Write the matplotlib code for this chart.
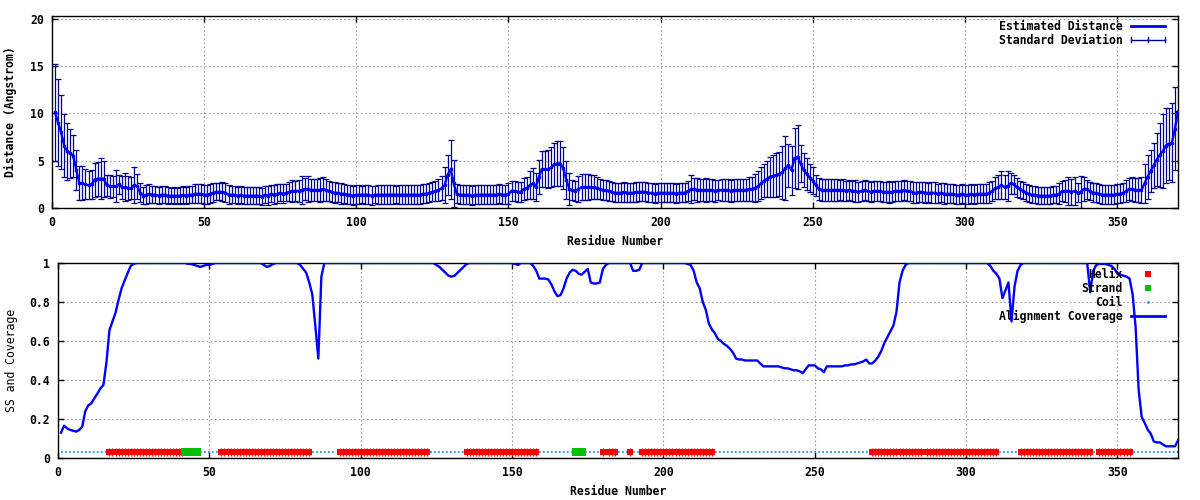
import numpy as np
import matplotlib
matplotlib.use("Agg")
import matplotlib.pyplot as plt
from matplotlib.lines import Line2D
from matplotlib.legend_handler import HandlerBase
from matplotlib.ticker import FuncFormatter

plt.rcParams['font.family'] = ['DejaVu Sans Mono']
plt.rcParams['font.size'] = 8.3
plt.rcParams['font.weight'] = 'bold'

# ---------------- data ----------------
residues = list(range(1, 371))

mean_distance = [
    10.1, 9.0, 8.0, 6.6, 6.0, 5.8, 5.5, 4.0, 2.6, 2.6,
    2.5, 2.4, 2.5, 3.0, 3.1, 3.1, 3.1, 2.4, 2.3, 2.3,
    2.3, 2.5, 2.2, 2.2, 2.1, 2.1, 2.4, 2.3, 1.6, 1.3,
    1.4, 1.5, 1.4, 1.4, 1.3, 1.4, 1.4, 1.3, 1.3, 1.3,
    1.3, 1.3, 1.4, 1.3, 1.4, 1.4, 1.5, 1.5, 1.5, 1.4,
    1.4, 1.5, 1.6, 1.7, 1.7, 1.7, 1.6, 1.4, 1.4, 1.4,
    1.3, 1.4, 1.3, 1.3, 1.3, 1.3, 1.3, 1.3, 1.2, 1.4,
    1.3, 1.5, 1.4, 1.5, 1.6, 1.5, 1.6, 1.7, 1.8, 1.8,
    1.8, 1.9, 2.0, 2.0, 1.9, 1.9, 1.9, 1.9, 2.0, 1.9,
    1.8, 1.7, 1.6, 1.6, 1.5, 1.5, 1.4, 1.4, 1.3, 1.4,
    1.4, 1.4, 1.4, 1.4, 1.3, 1.4, 1.4, 1.4, 1.4, 1.4,
    1.4, 1.4, 1.4, 1.4, 1.4, 1.4, 1.4, 1.4, 1.4, 1.4,
    1.4, 1.5, 1.5, 1.6, 1.7, 1.8, 1.9, 2.1, 2.4, 3.5,
    4.1, 2.6, 1.5, 1.4, 1.4, 1.4, 1.4, 1.3, 1.4, 1.4,
    1.4, 1.4, 1.4, 1.4, 1.4, 1.4, 1.5, 1.4, 1.4, 1.5,
    1.8, 1.8, 1.7, 1.7, 2.0, 2.1, 2.4, 2.6, 2.2, 3.3,
    4.1, 4.1, 4.1, 4.3, 4.6, 4.7, 4.7, 4.2, 3.0, 2.0,
    1.9, 1.8, 2.0, 2.2, 2.2, 2.2, 2.2, 2.2, 2.1, 2.0,
    1.9, 1.9, 1.8, 1.7, 1.6, 1.6, 1.6, 1.7, 1.6, 1.6,
    1.6, 1.7, 1.7, 1.7, 1.7, 1.6, 1.6, 1.5, 1.6, 1.6,
    1.6, 1.6, 1.6, 1.6, 1.5, 1.6, 1.6, 1.6, 1.8, 2.0,
    2.0, 1.9, 1.9, 1.9, 1.9, 1.9, 1.9, 1.8, 1.9, 1.9,
    1.9, 1.9, 1.8, 1.9, 1.9, 1.9, 1.9, 1.9, 2.0, 2.0,
    2.1, 2.3, 2.6, 2.9, 3.1, 3.3, 3.4, 3.5, 3.6, 3.8,
    4.2, 4.5, 4.0, 5.3, 5.4, 4.7, 4.0, 3.6, 3.2, 2.9,
    2.4, 2.0, 1.9, 1.9, 1.9, 1.9, 1.9, 1.9, 1.9, 1.9,
    1.8, 1.9, 1.8, 1.8, 1.7, 1.8, 1.9, 1.8, 1.7, 1.8,
    1.8, 1.8, 1.7, 1.7, 1.7, 1.7, 1.8, 1.8, 1.8, 1.9,
    1.8, 1.8, 1.6, 1.6, 1.7, 1.7, 1.6, 1.6, 1.6, 1.6,
    1.5, 1.6, 1.5, 1.5, 1.5, 1.5, 1.4, 1.4, 1.5, 1.4,
    1.4, 1.5, 1.4, 1.5, 1.5, 1.5, 1.5, 1.6, 1.8, 2.1,
    2.2, 2.4, 2.2, 2.3, 2.6, 2.5, 2.2, 2.0, 1.8, 1.6,
    1.5, 1.4, 1.4, 1.3, 1.3, 1.3, 1.3, 1.3, 1.4, 1.4,
    1.5, 1.8, 1.8, 1.8, 1.7, 1.8, 1.6, 1.7, 2.0, 2.0,
    1.8, 1.6, 1.6, 1.5, 1.4, 1.4, 1.4, 1.4, 1.4, 1.5,
    1.5, 1.6, 1.8, 2.0, 2.0, 1.9, 1.9, 1.9, 2.6, 3.3,
    3.9, 4.5, 5.1, 5.6, 6.0, 6.6, 6.8, 6.9, 8.4, 10.2,
]

std_deviation = [
    5.1, 4.6, 3.9, 3.3, 3.0, 2.6, 2.2, 2.1, 1.8, 1.8,
    1.6, 1.5, 1.5, 1.8, 1.8, 2.2, 1.9, 1.1, 1.2, 1.1,
    1.7, 1.0, 1.2, 1.5, 1.3, 1.2, 1.9, 1.3, 1.0, 0.9,
    1.0, 1.0, 0.9, 0.9, 0.9, 0.9, 0.9, 0.9, 0.8, 0.9,
    0.8, 0.9, 0.9, 0.9, 0.9, 0.9, 1.0, 1.0, 1.0, 1.0,
    1.0, 1.0, 1.0, 0.9, 0.9, 1.0, 1.0, 1.0, 0.9, 0.9,
    0.9, 0.9, 0.9, 0.9, 0.9, 0.9, 0.9, 0.9, 0.9, 0.9,
    1.0, 0.9, 1.0, 1.0, 0.9, 1.0, 0.9, 1.0, 1.2, 1.1,
    1.2, 1.5, 1.2, 1.4, 1.2, 1.2, 1.2, 1.3, 1.3, 1.2,
    1.1, 1.1, 1.1, 1.0, 1.1, 1.0, 1.0, 1.0, 1.0, 1.0,
    1.0, 0.9, 1.0, 1.0, 1.0, 0.9, 1.0, 1.0, 1.0, 1.0,
    1.0, 1.0, 0.9, 1.0, 1.0, 1.0, 1.0, 1.0, 1.0, 1.0,
    1.0, 1.0, 1.0, 1.0, 1.0, 1.1, 1.2, 1.3, 1.9, 2.1,
    3.1, 2.5, 1.0, 1.0, 1.0, 1.0, 1.0, 1.0, 1.0, 1.0,
    1.0, 1.0, 1.0, 1.0, 1.0, 1.0, 1.0, 1.0, 1.0, 1.1,
    1.1, 1.1, 1.1, 1.1, 1.2, 1.2, 1.5, 1.6, 1.5, 1.8,
    1.9, 1.9, 2.0, 2.1, 2.3, 2.4, 2.4, 2.2, 2.0, 1.7,
    1.1, 1.1, 1.4, 1.4, 1.4, 1.4, 1.3, 1.3, 1.2, 1.1,
    1.1, 1.1, 1.1, 1.0, 1.0, 1.0, 1.0, 1.1, 1.0, 1.0,
    1.0, 1.1, 1.0, 1.0, 1.0, 1.0, 1.0, 1.0, 1.0, 1.0,
    1.0, 1.0, 1.0, 1.0, 1.0, 1.0, 1.0, 1.0, 1.1, 1.5,
    1.2, 1.3, 1.2, 1.2, 1.3, 1.2, 1.2, 1.2, 1.1, 1.2,
    1.2, 1.2, 1.2, 1.2, 1.2, 1.2, 1.2, 1.2, 1.3, 1.3,
    1.5, 1.6, 1.7, 1.7, 1.9, 2.1, 2.2, 2.3, 2.3, 2.8,
    3.4, 2.3, 2.6, 3.2, 3.4, 2.0, 1.8, 1.7, 1.5, 1.4,
    1.1, 1.2, 1.2, 1.2, 1.2, 1.2, 1.2, 1.2, 1.1, 1.2,
    1.1, 1.1, 1.1, 1.2, 1.1, 1.1, 1.1, 1.1, 1.1, 1.1,
    1.1, 1.1, 1.1, 1.1, 1.2, 1.1, 1.1, 1.1, 1.1, 1.1,
    1.1, 1.1, 1.1, 1.1, 1.1, 1.1, 1.1, 1.0, 1.1, 1.1,
    1.0, 1.0, 1.1, 1.0, 1.0, 1.0, 1.0, 1.0, 1.0, 1.0,
    1.0, 1.0, 1.0, 1.0, 1.0, 1.0, 1.0, 1.1, 1.1, 1.2,
    1.3, 1.5, 1.3, 1.6, 1.1, 1.0, 1.0, 0.9, 0.9, 0.9,
    0.9, 0.9, 0.9, 0.9, 0.9, 0.9, 0.9, 0.9, 0.9, 0.9,
    1.1, 1.1, 1.2, 1.5, 1.4, 1.5, 1.0, 1.7, 1.3, 1.0,
    1.0, 1.0, 1.0, 1.0, 1.0, 1.0, 1.0, 1.0, 1.0, 1.0,
    1.0, 1.0, 1.2, 1.2, 1.3, 1.3, 1.3, 1.4, 2.1, 2.3,
    2.2, 2.4, 2.8, 3.4, 3.9, 4.0, 3.8, 4.2, 4.4, 0.1,
]

coverage = [
    0.13, 0.166, 0.152, 0.144, 0.14, 0.135, 0.144, 0.16, 0.24, 0.27,
    0.28, 0.306, 0.33, 0.357, 0.374, 0.49, 0.656, 0.70, 0.745, 0.81,
    0.87, 0.91, 0.947, 0.985, 0.995, 1.0, 1.0, 1.0, 1.0, 1.0,
    1.0, 1.0, 1.0, 1.0, 1.0, 1.0, 1.0, 1.0, 1.0, 1.0,
    1.0, 1.0, 0.995, 0.995, 0.99, 0.985, 0.98, 0.985, 0.99, 0.99,
    0.995, 1.0, 1.0, 1.0, 1.0, 1.0, 1.0, 1.0, 1.0, 1.0,
    1.0, 1.0, 1.0, 1.0, 1.0, 1.0, 1.0, 0.99, 0.98, 0.985,
    0.995, 1.0, 1.0, 1.0, 1.0, 1.0, 1.0, 1.0, 1.0, 0.99,
    0.97, 0.95, 0.9, 0.84, 0.68, 0.51, 0.93, 1.0, 1.0, 1.0,
    1.0, 1.0, 1.0, 1.0, 1.0, 1.0, 1.0, 1.0, 1.0, 1.0,
    1.0, 1.0, 1.0, 1.0, 1.0, 1.0, 1.0, 1.0, 1.0, 1.0,
    1.0, 1.0, 1.0, 1.0, 1.0, 1.0, 1.0, 1.0, 1.0, 1.0,
    1.0, 1.0, 1.0, 1.0, 0.99, 0.98, 0.965, 0.95, 0.935, 0.93,
    0.935, 0.95, 0.965, 0.98, 0.995, 1.0, 1.0, 1.0, 1.0, 1.0,
    1.0, 1.0, 1.0, 1.0, 1.0, 1.0, 1.0, 1.0, 1.0, 1.0,
    0.995, 0.99, 1.0, 1.0, 1.0, 1.0, 0.985, 0.96, 0.92, 0.92,
    0.92, 0.915, 0.89, 0.855, 0.83, 0.835, 0.87, 0.92, 0.95, 0.965,
    0.96, 0.945, 0.94, 0.955, 0.97, 0.9, 0.895, 0.895, 0.9, 0.97,
    0.99, 1.0, 1.0, 1.0, 1.0, 1.0, 1.0, 1.0, 1.0, 0.96,
    0.96, 0.965, 1.0, 1.0, 1.0, 1.0, 1.0, 1.0, 1.0, 1.0,
    1.0, 1.0, 1.0, 1.0, 1.0, 1.0, 1.0, 0.995, 0.99, 0.96,
    0.9, 0.87, 0.8, 0.76, 0.69, 0.66, 0.64, 0.61, 0.6, 0.585,
    0.575, 0.56, 0.54, 0.51, 0.505, 0.505, 0.5, 0.5, 0.5, 0.5,
    0.5, 0.485, 0.47, 0.47, 0.47, 0.47, 0.47, 0.47, 0.465, 0.46,
    0.46, 0.455, 0.45, 0.45, 0.445, 0.435, 0.455, 0.475, 0.475, 0.475,
    0.46, 0.455, 0.44, 0.47, 0.47, 0.47, 0.47, 0.47, 0.47, 0.475,
    0.475, 0.48, 0.48, 0.485, 0.49, 0.495, 0.505, 0.485, 0.485, 0.5,
    0.52, 0.55, 0.59, 0.62, 0.65, 0.68, 0.75, 0.9, 0.96, 0.99,
    1.0, 1.0, 1.0, 1.0, 1.0, 1.0, 1.0, 1.0, 1.0, 1.0,
    1.0, 1.0, 1.0, 1.0, 1.0, 1.0, 1.0, 1.0, 1.0, 1.0,
    1.0, 1.0, 1.0, 1.0, 1.0, 1.0, 1.0, 0.985, 0.96, 0.945,
    0.92, 0.82, 0.86, 0.9, 0.7, 0.88, 0.96, 0.99, 1.0, 1.0,
    1.0, 1.0, 1.0, 1.0, 1.0, 1.0, 1.0, 1.0, 1.0, 1.0,
    1.0, 1.0, 1.0, 1.0, 1.0, 1.0, 1.0, 1.0, 1.0, 1.0,
    0.85, 0.96, 0.99, 0.995, 0.995, 0.995, 0.99, 0.985, 0.97, 0.945,
    0.94, 0.935, 0.93, 0.92, 0.84, 0.67, 0.35, 0.21, 0.18, 0.145,
    0.125, 0.085, 0.08, 0.08, 0.07, 0.06, 0.06, 0.06, 0.06, 0.09,
]

helix_ranges = [(17, 41), (54, 83), (93, 122), (135, 158), (180, 180),
                (182, 184), (189, 189), (193, 216), (269, 285), (287, 310),
                (318, 341), (344, 354)]
strand_ranges = [(42, 46), (171, 173)]
ss_level = 0.03

x_ticks = [0, 50, 100, 150, 200, 250, 300, 350]
y_ticks_top = [0, 5, 10, 15, 20]
y_ticks_bottom = [0, 0.2, 0.4, 0.6, 0.8, 1.0]

# ---------------- derived SS arrays ----------------
res = np.array(residues)
helix_y = np.full(len(res), np.nan)
strand_y = np.full(len(res), np.nan)
for a, b in helix_ranges:
    helix_y[(res >= a) & (res <= b)] = ss_level
for a, b in strand_ranges:
    strand_y[(res >= a) & (res <= b)] = ss_level
coil_y = np.where(np.isnan(helix_y) & np.isnan(strand_y), ss_level, np.nan)

# ---------------- styling helpers ----------------
GRID_KW = dict(color='#A0A0A0', linestyle=(0, (1.5, 2.2)), linewidth=0.8)
ERR_COLOR = '#00008B'
LINE_COLOR = '#0000FF'


class HandlerErrSample(HandlerBase):
    def create_artists(self, legend, orig_handle, xdescent, ydescent,
                       width, height, fontsize, trans):
        y = (height - ydescent) / 2.0
        x0 = -xdescent
        x1 = -xdescent + width
        h = height * 0.32
        xm = (x0 + x1) / 2.0
        segs = [([x0, x1], [y, y]), ([x0, x0], [y - h, y + h]),
                ([x1, x1], [y - h, y + h]), ([xm, xm], [y - h, y + h])]
        arts = []
        for xs, ys in segs:
            ln = Line2D(xs, ys, color=ERR_COLOR, linewidth=1.0)
            ln.set_transform(trans)
            arts.append(ln)
        return arts


def style_axes(ax):
    ax.tick_params(direction='in', length=4, width=1, top=True, right=True,
                   labelsize=8.3, pad=6)
    for s in ax.spines.values():
        s.set_linewidth(1.0)
    ax.grid(True, **GRID_KW)
    ax.set_axisbelow(True)
    ax.set_xticks(x_ticks)
    ax.set_xlim(0, 370)
    for lab in ax.get_xticklabels() + ax.get_yticklabels():
        lab.set_fontweight('bold')


fig = plt.figure(figsize=(12, 5), dpi=100)

# ---------------- top panel ----------------
ax1 = fig.add_axes([52 / 1200, 1 - 208 / 500, 1126 / 1200, 192 / 500])
ax1.errorbar(res, mean_distance, yerr=std_deviation, fmt='none',
             ecolor=ERR_COLOR, elinewidth=0.9, capsize=2.0, capthick=0.9,
             zorder=2)
ax1.plot(res, mean_distance, color=LINE_COLOR, linewidth=1.7,
         marker='s', markersize=1.6, zorder=3)
ax1.set_ylim(0, 20.3)
ax1.set_yticks(y_ticks_top)
style_axes(ax1)
ax1.set_xlabel('Residue Number', fontweight='bold', labelpad=4)
ax1.set_ylabel('Distance (Angstrom)', fontweight='bold', labelpad=9)

h_line = Line2D([], [], color=LINE_COLOR, linewidth=2)
h_err = Line2D([], [], color=ERR_COLOR)
ax1.legend([h_line, h_err], ['Estimated Distance', 'Standard Deviation'],
           handler_map={h_err: HandlerErrSample()},
           loc='upper right', bbox_to_anchor=(1165 / 1200, 1 - 20 / 500),
           bbox_transform=fig.transFigure, frameon=False, markerfirst=False,
           handlelength=2.95, handletextpad=0.75, labelspacing=0.08,
           borderpad=0, borderaxespad=0,
           prop={'weight': 'bold', 'size': 8.3})

# ---------------- bottom panel ----------------
ax2 = fig.add_axes([58 / 1200, 42 / 500, 1120 / 1200, 195 / 500])
ax2.plot(res, coil_y, color='#1E90FF', linestyle=(0, (1, 1.2)),
         linewidth=1.3, zorder=2)
ax2.plot(res, helix_y, color='#FF0000', linestyle='none', marker='s',
         markersize=4.0, markeredgewidth=0, zorder=3)
ax2.plot(res, helix_y, color='#FF0000', linestyle='none', marker='|',
         markersize=5.8, markeredgewidth=0.9, zorder=3)
ax2.plot(res, strand_y, color='#00C000', linestyle='none', marker='s',
         markersize=5.2, markeredgewidth=0, zorder=3)
ax2.plot(res, coverage, color=LINE_COLOR, linewidth=1.7, zorder=4)
ax2.set_ylim(0, 1)
ax2.set_yticks(y_ticks_bottom)
ax2.yaxis.set_major_formatter(FuncFormatter(lambda v, p: f"{v:g}"))
style_axes(ax2)
ax2.set_xlabel('Residue Number', fontweight='bold', labelpad=4)
ax2.set_ylabel('SS and Coverage', fontweight='normal', labelpad=8)

hh = Line2D([], [], color='#FF0000', linestyle='none', marker='s',
            markersize=4, markeredgewidth=0)
hs = Line2D([], [], color='#00C000', linestyle='none', marker='s',
            markersize=5, markeredgewidth=0)
hc = Line2D([], [], color='#1E90FF', linestyle='none', marker='.',
            markersize=2)
hl = Line2D([], [], color=LINE_COLOR, linewidth=2)
ax2.legend([hh, hs, hc, hl], ['Helix', 'Strand', 'Coil', 'Alignment Coverage'],
           loc='upper right', bbox_to_anchor=(1165 / 1200, 1 - 268 / 500),
           bbox_transform=fig.transFigure, frameon=False, markerfirst=False,
           handlelength=2.95, handletextpad=0.75, labelspacing=0.08,
           borderpad=0, borderaxespad=0,
           prop={'weight': 'bold', 'size': 8.3})

fig.savefig('out.png', dpi=100)
